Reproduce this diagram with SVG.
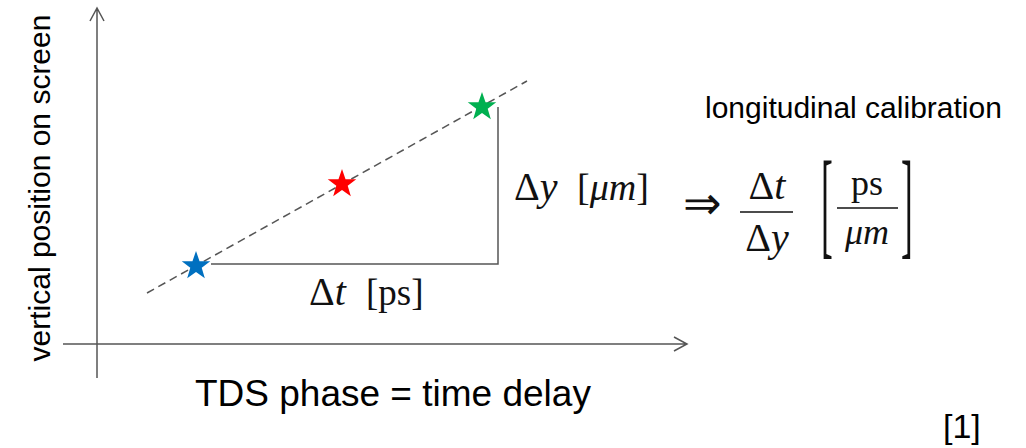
<svg xmlns="http://www.w3.org/2000/svg" width="1026" height="448" viewBox="0 0 1026 448">
<style>
.ax{fill:none;stroke:#555;stroke-width:1.5}
.sans{font-family:"Liberation Sans",Arial,sans-serif;fill:#000}
.math{font-family:"Liberation Serif","Times New Roman",serif;fill:#111}
.it{font-style:italic}
.bar{stroke:#111;stroke-width:1.3}
</style>
<defs>
<path id="star" d="M0,-15 L3.53,-4.85 L14.27,-4.64 L5.71,1.85 L8.82,12.14 L0,6 L-8.82,12.14 L-5.71,1.85 L-14.27,-4.64 L-3.53,-4.85 Z"/>
</defs>
<rect width="1026" height="448" fill="#fff"/>
<g id="axes">
<path class="ax" d="M97,378 V8 M90,21 L97,8 L104,21"/>
<path class="ax" d="M63,344 H687 M674,337 L687,344 L674,351"/>
</g>
<g id="connectors">
<path d="M147,293 L527,81" fill="none" stroke="#555" stroke-width="1.5" stroke-dasharray="8,5"/>
<path class="ax" d="M211,264 H498 V107"/>
</g>
<g id="star-blue"><use href="#star" x="196" y="266" fill="#0070C0"/></g>
<g id="star-red"><use href="#star" x="342" y="184" fill="#FF0000"/></g>
<g id="star-green"><use href="#star" x="482" y="107" fill="#00B050"/></g>
<g id="ylabel"><text class="sans" font-size="30" text-anchor="middle" transform="translate(50,188) rotate(-90)">vertical position on screen</text></g>
<g id="xlabel"><text class="sans" font-size="37" x="195" y="406">TDS phase = time delay</text></g>
<g id="title"><text class="sans" font-size="30" x="705" y="118">longitudinal calibration</text></g>
<g id="ref"><text class="sans" font-size="34" x="943" y="438">[1]</text></g>
<g id="dt-label">
<text class="math" font-size="40" x="309" y="305">Δ<tspan class="it">t</tspan></text>
<text class="math" font-size="37" x="366" y="305">[ps]</text>
</g>
<g id="dy-label">
<text class="math" font-size="40" x="514" y="200">Δ<tspan class="it">y</tspan></text>
<text class="math" font-size="38" x="577" y="200">[<tspan class="it">μm</tspan>]</text>
</g>
<g id="formula">
<text font-family="DejaVu Sans,sans-serif" font-weight="200" fill="#111" font-size="46" x="683" y="219">⇒</text>
<text class="math" font-size="40" x="767" y="199" text-anchor="middle">Δ<tspan class="it">t</tspan></text>
<line class="bar" x1="740" y1="212" x2="793" y2="212"/>
<text class="math" font-size="40" x="767" y="251" text-anchor="middle">Δ<tspan class="it">y</tspan></text>
<text class="math" font-size="118" transform="translate(821,243) scale(0.3,1)">[</text>
<text class="math" font-size="36" x="867" y="195" text-anchor="middle">ps</text>
<line class="bar" x1="837" y1="208" x2="898" y2="208"/>
<text class="math" font-size="36" x="867" y="244" text-anchor="middle" font-style="italic">μm</text>
<text class="math" font-size="118" transform="translate(901,243) scale(0.3,1)">]</text>
</g>
</svg>
